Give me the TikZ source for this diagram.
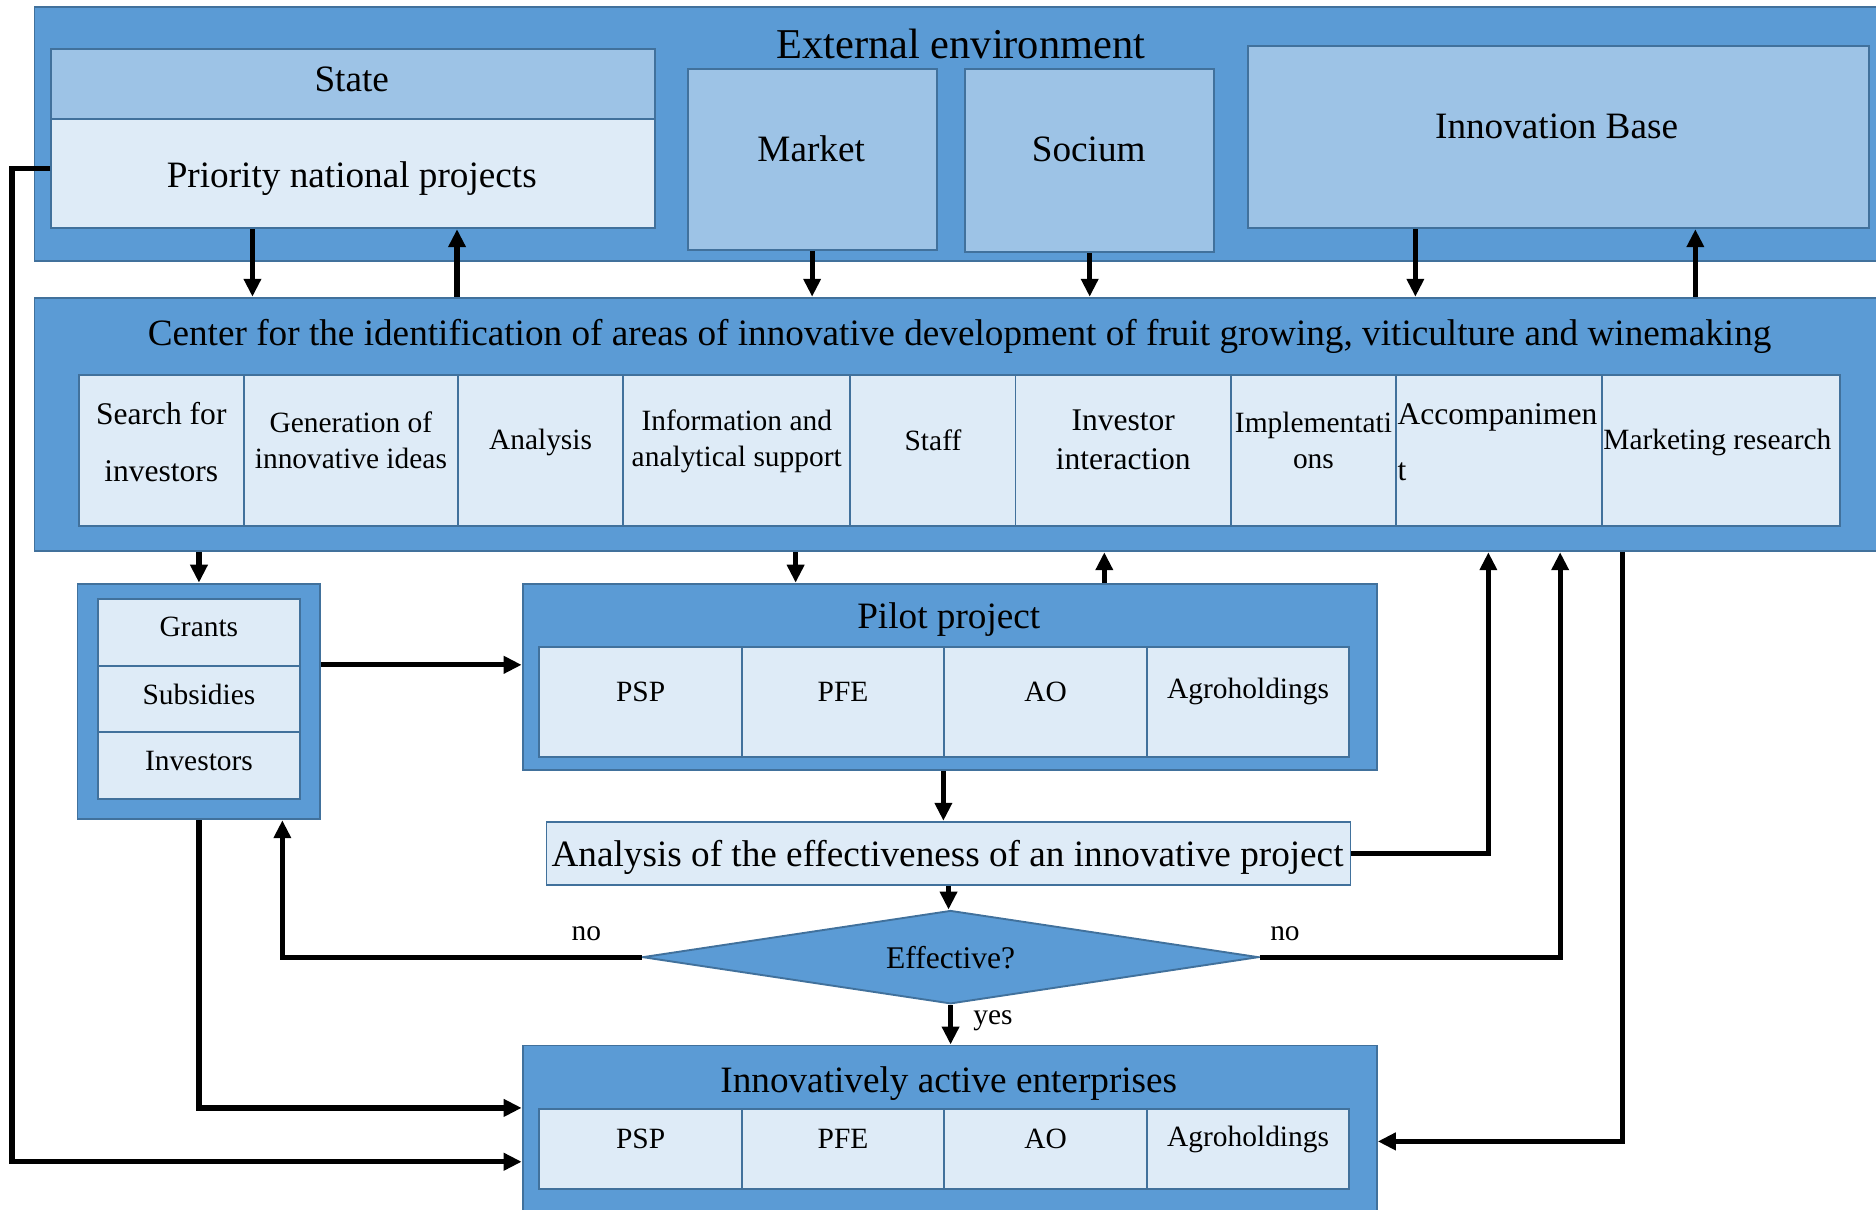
\documentclass[tikz,border=0pt]{standalone}
\usepackage{fontspec}
\setmainfont{Liberation Serif}
\usetikzlibrary{arrows.meta}
\usetikzlibrary{shapes.geometric}

\definecolor{midblue}{HTML}{5B9BD5}
\definecolor{lightblue}{HTML}{9DC3E6}
\definecolor{paleblue}{HTML}{DEEBF7}
\definecolor{edgeblue}{HTML}{41719C}

\begin{document}
\begin{tikzpicture}[
        x=0.2mm, y=-0.2mm,
        box/.style={draw=edgeblue, line width=0.9pt, inner sep=0pt, anchor=north west},
        outer/.style={box, fill=midblue},
        upper/.style={box, fill=lightblue},
        cell/.style={box, fill=paleblue},
        big/.style={font=\fontsize{17.7}{21}\selectfont},
        small/.style={font=\fontsize{14}{17}\selectfont},
        flow/.style={-{Triangle[length=3mm, width=2.8mm]}, line width=2.5pt}
    ]
        \useasboundingbox (0,0) rectangle (1568,1011);
        % --- Ancho de las celdas de empresas ---
        \def\cellw{169.25}

        % --- External environment ---
        \node[outer, minimum width=310.4mm, minimum height=42.4mm] (ext) at (28,5) {};
        \node[font=\fontsize{20.2}{24}\selectfont] (ext-t) at (803,37) {External environment};
        \node[upper, minimum width=101mm, minimum height=11.8mm] (state) at (42,40) {};
        \node[big] (state-t) at (294,66) {State};
        \node[cell, minimum width=101mm, minimum height=18.2mm] (prio) at (42,99) {};
        \node[big] (prio-t) at (294,149) {Priority national projects};
        \node[upper, minimum width=41.6mm, minimum height=30.2mm] (market) at (574,57) {};
        \node[big] (market-t) at (678,124) {Market};
        \node[upper, minimum width=41.6mm, minimum height=30.6mm] (socium) at (806,57) {};
        \node[big] (socium-t) at (910,125) {Socium};
        \node[upper, minimum width=103.8mm, minimum height=30.4mm] (inno) at (1042,38) {};
        \node[big] (inno-t) at (1301,106) {Innovation Base};

        % --- Center ---
        \node[outer, minimum width=310.4mm, minimum height=42.4mm] (center) at (28,248) {};
        \node[big] (center-t) at (802,281) {Center for the identification of areas of innovative development of fruit growing, viticulture and winemaking};
        \foreach \xa/\xb [count=\i] in {65/203, 203/382, 382/520, 520/710, 710/848, 848/1028, 1028/1166, 1166/1338, 1338/1537}
            \node[cell, minimum width={(\xb-\xa)*0.2mm}, minimum height=25.2mm] (c\i) at (\xa,313) {};
        \node[font=\fontsize{15}{26.7}\selectfont, align=center] (c1-t) at (c1.center |- 0,369.5) {Search for\\investors};
        \node[small, align=center] (c2-t) at (c2.center |- 0,368) {Generation of\\innovative ideas};
        \node[small] (c3-t) at (c3.center |- 0,370) {Analysis};
        \node[small, align=center] (c4-t) at (c4.center |- 0,369) {Information and\\analytical support};
        \node[small] (c5-t) at (c5.center |- 0,368) {Staff};
        \node[font=\fontsize{15}{18.8}\selectfont, align=center] (c6-t) at (c6.center |- 0,367.5) {Investor\\interaction};
        \node[small, align=center] (c7-t) at (c7.center |- 0,368) {Implementati\\ons};
        \node[font=\fontsize{15}{26.7}\selectfont, align=left, anchor=west, inner sep=1pt] (c8-t) at (c8.west |- 0,369.5) {Accompanimen\\t};
        \node[small, anchor=west, inner sep=1pt] (c9-t) at (c9.west |- 0,370) {Marketing research};

        % --- Funding sources ---
        \node[outer, minimum width=40.6mm, minimum height=39.4mm] (fund) at (64,487) {};
        \foreach \txt [count=\i] in {Grants, Subsidies, Investors} {
            \node[cell, minimum width=33.8mm, minimum height=11.13mm] (f\i) at (81,{500+55.67*(\i-1)}) {};
            \node[small] (f\i-t) at (f\i.center |- 0,{524+56*(\i-1)}) {\txt};
        }

        % --- Pilot project ---
        \node[outer, minimum width=142.8mm, minimum height=31.2mm] (pilot) at (436,487) {};
        \node[big] (pilot-t) at (793,518) {Pilot project};
        \foreach \txt [count=\i] in {PSP, PFE, AO, Agroholdings} {
            \node[cell, minimum width=33.85mm, minimum height=18.4mm] (p\i) at ({450+\cellw*(\i-1)},540) {};
            \node[small] (p\i-t) at (p\i.center |- 0,578) {\txt};
        }

        % --- Evaluacion ---
        \node[cell, minimum width=134.4mm, minimum height=10.6mm] (anal) at (456,686) {};
        \node[big] (anal-t) at (792,717) {Analysis of the effectiveness of an innovative project};
        \node[diamond, aspect=6.6, draw=edgeblue, fill=midblue, line width=0.9pt, inner sep=0pt,
              minimum width=103mm, minimum height=15.6mm, font=\fontsize{15}{18}\selectfont] (dec) at (794.5,800) {Effective?};
        \node[small] (no-l) at (490,780) {no};
        \node[small] (no-r) at (1074,780) {no};
        \node[small] (yes) at (830,853) {yes};

        % --- Innovatively active enterprises ---
        \node[outer, minimum width=142.8mm, minimum height=30.4mm] (ent) at (436,873) {};
        \node[big] (ent-t) at (793,906) {Innovatively active enterprises};
        \foreach \txt [count=\i] in {PSP, PFE, AO, Agroholdings} {
            \node[cell, minimum width=33.85mm, minimum height=13.4mm] (e\i) at ({450+\cellw*(\i-1)},926) {};
            \node[small] (e\i-t) at (e\i.center |- 0,952) {\txt};
        }

        % --- Flechas ---
        \draw[flow] (prio.south -| 211,0) -- (center.north -| 211,0);
        \draw[flow] (center.north -| 382,0) -- (prio.south -| 382,0);
        \draw[flow] (market.south) -- (market.south |- center.north);
        \draw[flow] (socium.south) -- (socium.south |- center.north);
        \draw[flow] (inno.south -| 1183,0) -- (center.north -| 1183,0);
        \draw[flow] (center.north -| 1417,0) -- (inno.south -| 1417,0);

        \draw[flow] (center.south -| fund.north) -- (fund.north);
        \draw[flow] (center.south -| 665,0) -- (pilot.north -| 665,0);
        \draw[flow] (pilot.north -| 923,0) -- (center.south -| 923,0);
        \draw[flow] (fund.east |- f2.north) -- (pilot.west |- f2.north);
        \draw[flow] (pilot.south -| p3.west) -- (anal.north -| p3.west);
        \draw[flow] (anal.south) -- (anal.south |- dec.north);
        \draw[flow] (anal.east) -| (center.south -| 1244,0);
        \draw[flow] (dec.west) -| (fund.south -| 236,0);
        \draw[flow] (dec.east) -| (center.south -| 1304,0);
        \draw[flow] (dec.south) -- (dec.south |- ent.north);
        \draw[flow] (center.south -| 1356,0) |- (ent.east |- 0,954);
        \draw[flow] (fund.south) |- (ent.west |- e1.north);
        \draw[flow] (prio.west |- 0,141) -- ++(-32,0) |- (ent.west |- 0,971);

    \end{tikzpicture}
\end{document}
